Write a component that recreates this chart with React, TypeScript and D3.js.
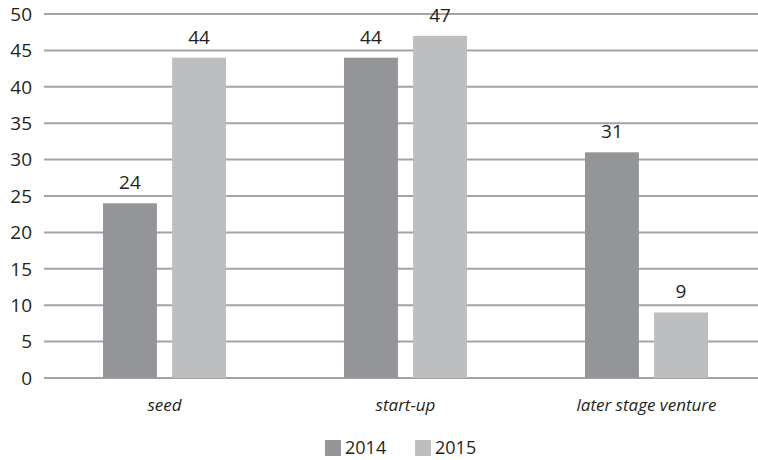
import React from "react";
import * as d3 from "d3";

// chart data
const categories = ["seed", "start-up", "later stage venture"];
const seriesNames = ["2014", "2015"];
const values2014 = [24, 44, 31];
const values2015 = [44, 47, 9];
const yTicks = [0, 5, 10, 15, 20, 25, 30, 35, 40, 45, 50];

const colors = ["#939598", "#bcbec0"];
const textColor = "#231f20";
const font = "'Open Sans', 'Noto Sans', sans-serif";

const App = () => {
  const width = 758;
  const height = 460;
  const margin = { top: 14, left: 44, bottom: 82 };
  const plotRight = 767; // plot runs past the right edge, as in the picture

  const x = d3.scaleBand().domain(categories).range([margin.left, plotRight]);
  const inner = d3.scaleBand().domain(seriesNames).range([-61.5, 61.5]).paddingInner(0.22);
  const y = d3.scaleLinear().domain([0, 50]).range([height - margin.bottom, margin.top]);

  const series = [values2014, values2015];

  return (
    <svg width={width} height={height} style={{ position: "absolute", left: 0, top: 0, background: "#fff" }}>
      {/* gridlines + y labels */}
      {yTicks.map((t) => (
        <g key={t}>
          <line x1={margin.left} x2={plotRight} y1={y(t)} y2={y(t)} stroke="#a3a3a5" strokeWidth={2} />
          <text x={32} y={y(t)} dy="0.36em" textAnchor="end" fontFamily={font} fontSize={19} fill={textColor}>
            {t}
          </text>
        </g>
      ))}

      {/* bars */}
      {categories.map((c, ci) => {
        const cx = x(c)! + x.bandwidth() / 2;
        return (
          <g key={c}>
            {seriesNames.map((s, si) => {
              const v = series[si][ci];
              const bx = cx + inner(s)!;
              return (
                <g key={s}>
                  <rect x={bx} y={y(v)} width={inner.bandwidth()} height={y(0) - y(v)} fill={colors[si]} />
                  <text x={bx + inner.bandwidth() / 2} y={y(v) - 14} textAnchor="middle" fontFamily={font} fontSize={19} fill={textColor}>
                    {v}
                  </text>
                </g>
              );
            })}
            <text x={cx} y={411} textAnchor="middle" fontFamily={font} fontSize={17} fontStyle="italic" fill={textColor}>
              {c}
            </text>
          </g>
        );
      })}

      {/* legend */}
      {seriesNames.map((s, i) => {
        const lx = 325 + i * 90;
        return (
          <g key={s}>
            <rect x={lx} y={440} width={16} height={16} fill={colors[i]} />
            <text x={lx + 20} y={454} fontFamily={font} fontSize={18} fill={textColor}>
              {s}
            </text>
          </g>
        );
      })}
    </svg>
  );
};

export default App;
